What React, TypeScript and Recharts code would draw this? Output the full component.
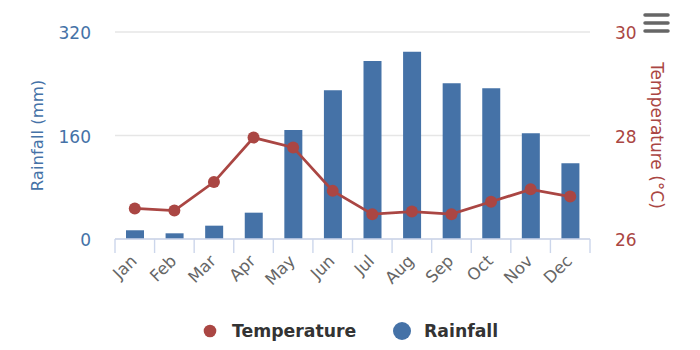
import React from 'react';
import { ComposedChart, Bar, Line, XAxis, YAxis, CartesianGrid } from 'recharts';

const months = ['Jan', 'Feb', 'Mar', 'Apr', 'May', 'Jun', 'Jul', 'Aug', 'Sep', 'Oct', 'Nov', 'Dec'];
const rainfall = [13.5, 8.8, 20.6, 40.7, 168.5, 230, 275, 289.6, 240.7, 233, 163.4, 117];
const temperature = [26.59, 26.55, 27.1, 27.96, 27.77, 26.93, 26.48, 26.53, 26.48, 26.72, 26.96, 26.82];
const rainTicks = [0, 160, 320];
const tempTicks = [26, 28, 30];

const RAIN_NAME = 'Rainfall';
const TEMP_NAME = 'Temperature';
const RAIN_COLOR = '#4572A7';
const TEMP_COLOR = '#AA4643';
const FONT = '"DejaVu Sans", Verdana, sans-serif';

const data = months.map((m, i) => ({ month: m, rainfall: rainfall[i], temperature: temperature[i] }));

const legendItems = [
  { name: TEMP_NAME, color: TEMP_COLOR, r: 6.3, x: 210 },
  { name: RAIN_NAME, color: RAIN_COLOR, r: 9, x: 402 },
];

const XTick = (props: any) => {
  const { x, y, payload, index, visibleTicksCount, width } = props;
  const count = visibleTicksCount || months.length;
  const band = (width || 475) / count;
  const left = x - band / 2;
  const right = x + band / 2;
  return (
    <g>
      <line x1={left} x2={left} y1={y} y2={y + 14} stroke="#ccd6eb" strokeWidth={1.4} />
      {index === count - 1 && (
        <line x1={right} x2={right} y1={y} y2={y + 14} stroke="#ccd6eb" strokeWidth={1.4} />
      )}
      <text
        x={x + 3}
        y={y + 23}
        transform={`rotate(-45, ${x + 3}, ${y + 23})`}
        textAnchor="end"
        fill="#666666"
        fontSize={16.5}
        fontFamily={FONT}
      >
        {payload.value}
      </text>
    </g>
  );
};

const LeftTitle = (props: any) => {
  const vb = props.viewBox || { x: 0, y: 32, width: 115, height: 207 };
  const cx = vb.x + 37;
  const cy = vb.y + vb.height / 2;
  return (
    <text
      x={cx}
      y={cy}
      transform={`rotate(-90, ${cx}, ${cy})`}
      textAnchor="middle"
      dominantBaseline="central"
      fill={RAIN_COLOR}
      fontSize={16.5}
      fontFamily={FONT}
    >
      Rainfall (mm)
    </text>
  );
};

const RightTitle = (props: any) => {
  const vb = props.viewBox || { x: 590, y: 32, width: 110, height: 207 };
  const cx = vb.x + 67;
  const cy = vb.y + vb.height / 2;
  return (
    <text
      x={cx}
      y={cy}
      transform={`rotate(90, ${cx}, ${cy})`}
      textAnchor="middle"
      dominantBaseline="central"
      fill={TEMP_COLOR}
      fontSize={17}
      fontFamily={FONT}
    >
      Temperature (°C)
    </text>
  );
};

export default function App() {
  return (
    <div style={{ position: 'absolute', left: 0, top: 0, width: 700, height: 350, background: '#ffffff', fontFamily: FONT }}>
      <ComposedChart width={700} height={350} data={data} margin={{ top: 32, right: 0, bottom: 51, left: 0 }}>
        <CartesianGrid yAxisId="rain" vertical={false} stroke="#e6e6e6" strokeWidth={1.4} />
        <XAxis
          dataKey="month"
          interval={0}
          height={60}
          tickLine={false}
          tickSize={0}
          tickMargin={0}
          axisLine={{ stroke: '#ccd6eb', strokeWidth: 1.4 }}
          tick={<XTick />}
        />
        <YAxis
          yAxisId="rain"
          orientation="left"
          width={115}
          domain={[0, 320]}
          ticks={rainTicks}
          axisLine={false}
          tickLine={false}
          tickSize={0}
          tickMargin={24}
          tick={{ fill: RAIN_COLOR, fontSize: 17, fontFamily: FONT, dy: 1 }}
          label={<LeftTitle />}
        />
        <YAxis
          yAxisId="temp"
          orientation="right"
          width={110}
          domain={[26, 30]}
          ticks={tempTicks}
          axisLine={false}
          tickLine={false}
          tickSize={0}
          tickMargin={25}
          tick={{ fill: TEMP_COLOR, fontSize: 17, fontFamily: FONT, dy: 1 }}
          label={<RightTitle />}
        />
        <Bar yAxisId="rain" dataKey="rainfall" name={RAIN_NAME} fill={RAIN_COLOR} barSize={18} isAnimationActive={false} />
        <Line
          yAxisId="temp"
          type="linear"
          dataKey="temperature"
          name={TEMP_NAME}
          stroke={TEMP_COLOR}
          strokeWidth={2.8}
          dot={{ r: 6, fill: TEMP_COLOR, stroke: TEMP_COLOR, strokeWidth: 0 }}
          activeDot={false}
          isAnimationActive={false}
        />
      </ComposedChart>
      <svg width={700} height={350} style={{ position: 'absolute', left: 0, top: 0, pointerEvents: 'none' }}>
        <g stroke="#666666" strokeWidth={3.5} strokeLinecap="round">
          <line x1={645} x2={668} y1={15} y2={15} />
          <line x1={645} x2={668} y1={23} y2={23} />
          <line x1={645} x2={668} y1={31} y2={31} />
        </g>
        {legendItems.map((item) => (
          <g key={item.name}>
            <circle cx={item.x} cy={331} r={item.r} fill={item.color} />
            <text x={item.x + 22} y={337} fill="#333333" fontSize={17.3} fontWeight="bold" fontFamily={FONT}>
              {item.name}
            </text>
          </g>
        ))}
      </svg>
    </div>
  );
}
